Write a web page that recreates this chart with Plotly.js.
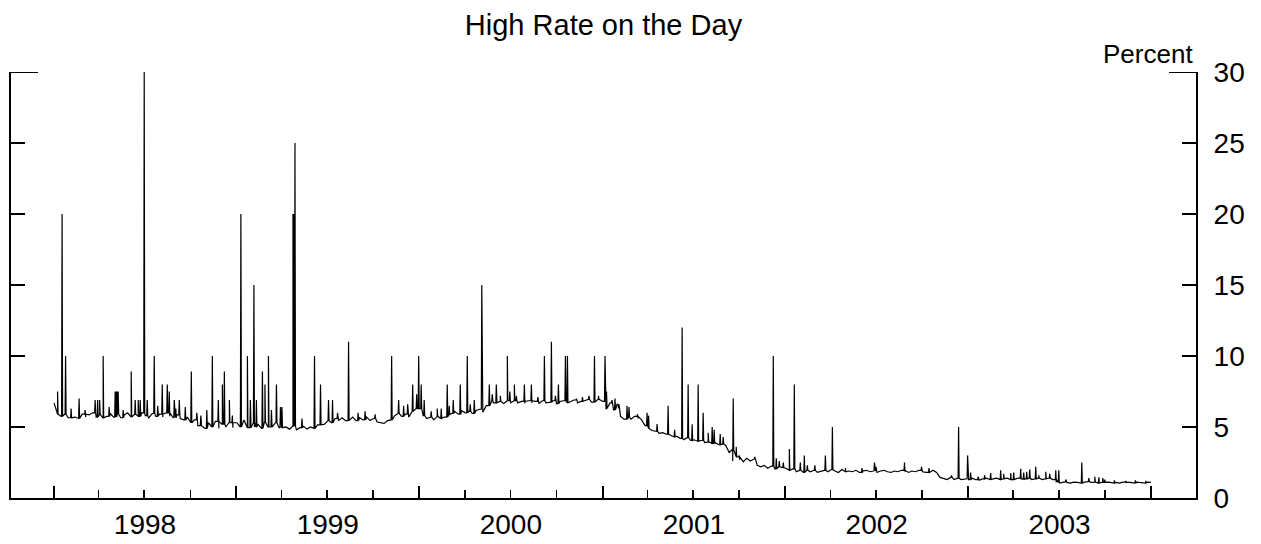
<!DOCTYPE html>
<html>
<head>
<meta charset="utf-8">
<script src="https://cdn.plot.ly/plotly-3.0.1.min.js"></script>
<style>
  html, body { margin: 0; padding: 0; background: #fff; }
  #chart { width: 1261px; height: 544px; }
</style>
</head>
<body>
<div id="chart"></div>
<script>
// Daily high federal funds rate, percent.
// Typical level of the high rate, one value per week (week k starts on Jan 2 + 7k).
const base1998 = [6.7, 5.9, 5.75, 5.9, 5.65, 5.95, 5.7, 5.6, 5.9, 5.7, 5.85,
  6.0, 5.7, 5.9, 5.65, 5.75, 5.95, 5.7, 5.9, 5.65, 5.85,
  6.0, 5.7, 5.9, 5.75, 6.0, 5.8, 5.65, 5.95, 5.75, 5.9,
  5.7, 6.0, 5.75, 5.65, 5.85, 5.6, 5.5, 5.7, 5.3, 5.5,
  5.1, 5.4, 4.9, 5.3, 5.0, 5.4, 4.9, 5.2, 5.0, 5.3, 4.95];
const base1999 = [5.3, 5.0, 5.5, 4.95, 5.3, 5.0, 5.2, 4.9, 5.35, 5.0, 5.2,
  5.3, 4.95, 5.15, 5.0, 4.85, 5.05, 4.8, 4.95, 5.05, 4.85,
  5.0, 4.9, 5.15, 5.3, 5.2, 5.45, 5.3, 5.6, 5.45, 5.65,
  5.45, 5.6, 5.7, 5.45, 5.65, 5.5, 5.7, 5.45, 5.6, 5.35,
  5.3, 5.25, 5.45, 5.5, 5.8, 5.95, 5.75, 5.9, 5.7, 6.1, 6.3];
const base2000 = [6.3, 5.8, 5.6, 5.7, 5.5, 5.75, 5.6, 5.7, 5.85, 5.95, 6.1,
  5.9, 6.15, 6.0, 6.1, 5.95, 6.15, 6.25, 6.05, 6.5, 6.85,
  6.7, 6.9, 6.8, 6.65, 6.85, 6.7, 6.85, 6.7, 6.8, 6.65,
  6.85, 6.7, 6.8, 6.65, 6.85, 6.7, 6.75, 6.85, 6.65, 6.8,
  6.85, 6.7, 6.8, 6.9, 6.7, 6.8, 6.85, 6.95, 6.75, 6.8, 6.95];
const base2001 = [6.8, 6.3, 6.7, 6.2, 6.6, 5.75, 5.55, 5.7, 5.55, 5.75, 5.6,
  5.5, 5.1, 4.9, 4.75, 4.7, 4.55, 4.6, 4.5, 4.45, 4.3,
  4.35, 4.2, 4.1, 4.25, 4.05, 4.1, 4.0, 4.05, 3.9, 3.95,
  3.85, 3.9, 3.75, 3.8, 3.7, 3.2, 3.4, 2.9, 2.7, 2.55,
  2.8, 2.6, 2.75, 2.3, 2.2, 2.3, 2.1, 2.25, 2.05, 2.2, 2.15];
const base2002 = [2.1, 1.95, 2.05, 1.85, 1.95, 1.8, 1.95, 1.85, 1.95, 1.8, 1.9,
  1.95, 1.85, 2.0, 1.9, 1.8, 2.0, 1.85, 1.9, 1.85, 1.95,
  1.8, 1.9, 1.95, 1.85, 1.9, 1.8, 1.9, 1.95, 1.85, 1.8,
  1.9, 1.85, 1.95, 1.85, 1.8, 1.9, 1.85, 1.95, 1.85, 1.8,
  1.9, 1.95, 1.8, 1.45, 1.35, 1.3, 1.45, 1.3, 1.4, 1.3, 1.35];
const base2003 = [1.3, 1.4, 1.3, 1.25, 1.35, 1.4, 1.3, 1.35, 1.4, 1.3, 1.35,
  1.4, 1.3, 1.35, 1.4, 1.3, 1.35, 1.4, 1.3, 1.35, 1.4,
  1.3, 1.35, 1.4, 1.3, 1.1, 1.05, 1.12, 1.1, 1.05, 1.12,
  1.1, 1.05, 1.12, 1.15, 1.1, 1.12, 1.05, 1.1, 1.05, 1.12,
  1.05, 1.1, 1.05, 1.12, 1.05, 1.1, 1.05, 1.12, 1.1, 1.05, 1.12, 1.1];

// Days when the high rate broke well away from its usual level.
const spikeDates = [
  '1998-01-09', '1998-01-18', '1998-01-25', '1998-02-21', '1998-03-25', '1998-03-30',
  '1998-04-03', '1998-04-10', '1998-05-04', '1998-05-06', '1998-05-08', '1998-05-10',
  '1998-06-05', '1998-06-13', '1998-06-19', '1998-06-23', '1998-07-01', '1998-07-07',
  '1998-07-21', '1998-08-06', '1998-08-16', '1998-08-20', '1998-08-30', '1998-09-09',
  '1998-09-21', '1998-10-03', '1998-11-14', '1998-11-26', '1998-12-04', '1998-12-08',
  '1998-12-18',
  '1999-01-10', '1999-01-23', '1999-01-29', '1999-02-05', '1999-02-10', '1999-02-22',
  '1999-02-27', '1999-03-06', '1999-03-22', '1999-04-02', '1999-04-24', '1999-04-26',
  '1999-04-28', '1999-06-06', '1999-06-18', '1999-07-04', '1999-07-12', '1999-08-13',
  '1999-11-07', '1999-11-21', '1999-12-19', '1999-12-27', '1999-12-31',
  '2000-01-05', '2000-01-11', '2000-02-06', '2000-02-14', '2000-02-26', '2000-03-09',
  '2000-03-23', '2000-04-06', '2000-04-20', '2000-05-05', '2000-05-20', '2000-05-26',
  '2000-06-03', '2000-06-11', '2000-06-25', '2000-07-09', '2000-07-13', '2000-07-29',
  '2000-08-12', '2000-09-07', '2000-09-21', '2000-10-05', '2000-10-19', '2000-10-23',
  '2000-11-10', '2000-12-16', '2000-12-24',
  '2001-01-06', '2001-01-09', '2001-01-20', '2001-01-26', '2001-02-19', '2001-02-23',
  '2001-03-31', '2001-04-03', '2001-05-12', '2001-06-09', '2001-06-21', '2001-07-11',
  '2001-07-21', '2001-08-08', '2001-08-12', '2001-08-24', '2001-09-18', '2001-09-19',
  '2001-09-25', '2001-12-08', '2001-12-14', '2001-12-20', '2001-12-28',
  '2002-01-09', '2002-01-19', '2002-02-08', '2002-02-14', '2002-03-22', '2002-04-05',
  '2002-05-01', '2002-06-28', '2002-08-27', '2002-12-13', '2002-12-31',
  '2003-01-06', '2003-02-15', '2003-03-07', '2003-03-13', '2003-03-27', '2003-04-02',
  '2003-04-16', '2003-04-22', '2003-04-28', '2003-05-04', '2003-05-16', '2003-05-22',
  '2003-06-05', '2003-06-13', '2003-06-25', '2003-07-01', '2003-08-16', '2003-08-30',
  '2003-09-11', '2003-09-19', '2003-09-27', '2003-11-12', '2003-12-22'
];
const spikeRates = [
  7.5, 20, 10, 7.0, 6.9, 6.9,
  6.9, 10, 7.5, 7.5, 7.5, 7.5,
  8.9, 6.9, 6.9, 6.9, 30, 6.9,
  10, 8.0, 8.0, 7.5, 6.9, 6.9,
  6.4, 8.9, 10, 6.9, 8.0, 8.9,
  6.9,
  20, 10, 6.9, 15, 6.9, 8.9,
  8.0, 10, 8.0, 6.4, 20, 20,
  25, 10, 8.0, 6.9, 6.9, 11,
  10, 6.9, 8.0, 7.3, 10,
  8.0, 6.9, 6.3, 6.3, 8.0, 6.9,
  8.0, 10, 6.9, 15, 8.0, 7.3,
  8.0, 7.2, 10, 8.0, 7.2, 8.0,
  8.0, 10, 11, 8.0, 10, 10,
  7.0, 10, 7.2,
  10, 7.5, 6.9, 7.0, 6.5, 6.4,
  6.0, 5.8, 6.5, 12, 8.0, 8.0,
  6.0, 5.0, 4.8, 4.5, 2.6, 7.0,
  3.6, 10, 2.8, 2.6, 2.5,
  3.45, 8.0, 3.0, 2.3, 3.0, 5.0,
  2.1, 2.5, 2.5, 5.0, 3.0,
  1.8, 1.75, 1.95, 1.7, 1.75, 1.8,
  2.05, 1.8, 1.85, 2.0, 2.2, 1.6,
  1.85, 1.7, 1.95, 1.95, 2.5, 1.4,
  1.5, 1.45, 1.4, 1.2, 1.2
];

// Smaller day-to-day pops above the usual level.
const bumpDates = [
  '1998-02-05', '1998-03-05', '1998-04-22', '1998-05-20', '1998-07-28', '1998-09-02',
  '1998-10-14', '1998-10-22', '1998-11-03', '1998-12-24',
  '1999-03-12', '1999-03-30', '1999-05-12', '1999-07-22', '1999-09-01', '1999-09-15',
  '1999-10-05', '1999-12-01', '1999-12-09',
  '2000-01-25', '2000-03-01', '2000-04-12', '2000-06-30', '2000-08-25', '2000-09-29',
  '2000-11-22', '2000-12-05',
  '2001-02-02', '2001-03-12', '2001-04-20', '2001-05-25', '2001-06-29', '2001-07-31',
  '2001-08-30', '2001-10-01', '2001-11-01',
  '2002-01-31', '2002-03-01', '2002-06-03', '2002-07-01', '2002-09-30', '2002-10-15',
  '2002-11-29',
  '2003-01-21', '2003-02-03', '2003-07-15', '2003-10-01', '2003-10-20', '2003-12-01'
];
const bumpRates = [
  6.3, 6.2, 6.4, 6.2, 6.5, 6.3,
  6.0, 5.8, 6.2, 5.8,
  6.2, 6.4, 5.6, 6.0, 6.0, 6.1,
  5.9, 6.5, 6.6,
  6.1, 6.5, 6.6, 7.5, 7.1, 7.2,
  7.1, 7.2,
  6.3, 5.9, 5.2, 4.8, 5.2, 4.6,
  4.3, 3.0, 2.9,
  2.5, 2.3, 2.1, 2.2, 2.2, 2.1,
  1.6,
  1.5, 1.6, 1.3, 1.3, 1.25, 1.25
];

const yearBases = [[1998, base1998], [1999, base1999], [2000, base2000],
                   [2001, base2001], [2002, base2002], [2003, base2003]];

const DAY = 86400000;
const basePts = [];
yearBases.forEach(([yr, arr]) => {
  arr.forEach((v, k) => basePts.push({ t: Date.UTC(yr, 0, 2 + 7 * k), v }));
});

// the usual level in force on a given day (latest weekly level at or before it)
function levelAt(t) {
  let v = basePts[0].v;
  for (const p of basePts) { if (p.t <= t) v = p.v; else break; }
  return v;
}

const pts = basePts.slice();
function addDays(dates, rates) {
  dates.forEach((d, i) => {
    const t = Date.parse(d + 'T00:00:00Z');
    const lvl = levelAt(t);
    pts.push({ t: t - DAY, v: lvl });
    pts.push({ t: t, v: rates[i] });
    pts.push({ t: t + DAY, v: lvl });
  });
}
addDays(spikeDates, spikeRates);
addDays(bumpDates, bumpRates);
pts.sort((a, b) => a.t - b.t);

const xs = pts.map(p => new Date(p.t).toISOString().slice(0, 10));
const ys = pts.map(p => p.v);

const trace = {
  x: xs, y: ys, type: 'scatter', mode: 'lines',
  line: { color: '#000', width: 1.2 },
  hoverinfo: 'x+y'
};

const FONT = 'Liberation Sans, Arial, Helvetica, sans-serif';
const longTick = 27 / 1185;

const layout = {
  width: 1261, height: 544,
  margin: { l: 11, r: 65, t: 72, b: 46, pad: 0 },
  paper_bgcolor: '#fff', plot_bgcolor: '#fff',
  showlegend: false,
  font: { family: FONT, color: '#000', size: 28 },
  title: {
    text: 'High Rate on the Day',
    x: 0.5, xref: 'paper', xanchor: 'center',
    y: 1 - 25 / 544, yref: 'container', yanchor: 'middle',
    font: { family: FONT, size: 29, color: '#000' }
  },
  xaxis: {
    type: 'date',
    range: ['1997-10-08', '2004-03-31'],
    tickmode: 'linear', tick0: '1998-01-01', dtick: 'M12',
    tickformat: '%Y', ticklabelmode: 'period',
    ticks: 'inside', ticklen: 12, tickwidth: 2, tickcolor: '#000',
    showline: true, linecolor: '#000', linewidth: 2,
    showgrid: false, zeroline: false,
    tickfont: { family: FONT, size: 28, color: '#000' },
    minor: { dtick: 'M3', tick0: '1998-01-01', ticks: 'inside', ticklen: 8,
             tickwidth: 1.5, tickcolor: '#000', showgrid: false }
  },
  yaxis: {
    range: [0, 30], side: 'right',
    tickmode: 'linear', tick0: 0, dtick: 5,
    ticks: 'inside', ticklen: 14, tickwidth: 2, tickcolor: '#000',
    showline: true, linecolor: '#000', linewidth: 2, mirror: 'ticks',
    showgrid: false, zeroline: false,
    ticklabelstandoff: 10,
    tickfont: { family: FONT, size: 28, color: '#000' }
  },
  shapes: [
    { type: 'line', xref: 'paper', yref: 'y', x0: 0, x1: longTick, y0: 30, y1: 30,
      line: { color: '#000', width: 2 } },
    { type: 'line', xref: 'paper', yref: 'y', x0: 1 - longTick, x1: 1, y0: 30, y1: 30,
      line: { color: '#000', width: 2 } }
  ],
  annotations: [
    { text: 'Percent', xref: 'paper', yref: 'y', x: 1, y: 30,
      xanchor: 'right', yanchor: 'bottom', xshift: -1, yshift: 1, showarrow: false,
      font: { family: FONT, size: 26, color: '#000' } }
  ]
};

Plotly.newPlot('chart', [trace], layout, { displayModeBar: false, staticPlot: true });
</script>
</body>
</html>
